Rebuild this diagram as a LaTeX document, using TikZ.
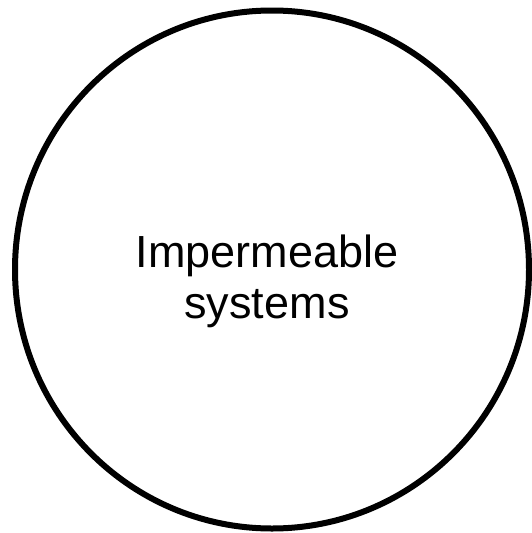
\documentclass[tikz,border=0pt]{standalone}
\usepackage{fontspec}
\setmainfont{Liberation Sans}
\usetikzlibrary{shapes.geometric, positioning}
\tikzset{
	boundary/.style={ellipse, draw=black, line width=6pt, minimum width=514pt, minimum height=518pt, inner sep=0pt},
	systext/.style ={align=center, font=\fontsize{45}{51}\selectfont, inner sep=0pt},
}
\begin{document}
\begin{tikzpicture}[x=1pt, y=-1pt]
	\useasboundingbox (0,0) rectangle (531,533);
	\node[boundary] (sys) at (272,269.5) {};
	\node[systext] (lbl) at (267,281) {Impermeable\\ systems};
\end{tikzpicture}
\end{document}
